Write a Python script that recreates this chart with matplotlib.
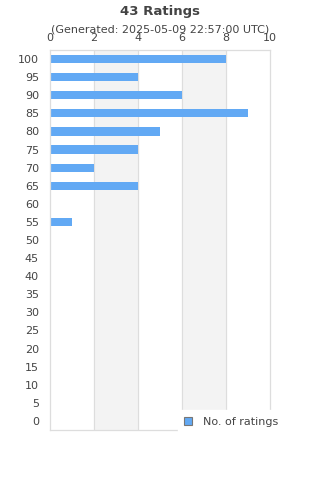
import matplotlib
matplotlib.use("Agg")
import matplotlib.pyplot as plt
from matplotlib.patches import Patch

ratings = [0, 5, 10, 15, 20, 25, 30, 35, 40, 45, 50, 55, 60, 65, 70, 75, 80, 85, 90, 95, 100]
counts = [0, 0, 0, 0, 0, 0, 0, 0, 0, 0, 0, 1, 0, 4, 2, 4, 5, 9, 6, 4, 8]
x_ticks = [0, 2, 4, 6, 8, 10]

text_color = "#444444"
bar_color = "#62a9f4"
grid_color = "#dddddd"

fig = plt.figure(figsize=(3.2, 4.8), dpi=100)
ax = fig.add_axes([50 / 320, 50 / 480, 220 / 320, 380 / 480])

# alternating bands
for i in range(len(x_ticks) - 1):
    if i % 2 == 1:
        ax.axvspan(x_ticks[i], x_ticks[i + 1], color="#f3f3f3", zorder=0)
for t in x_ticks[1:-1]:
    ax.axvline(t, color=grid_color, lw=0.8, zorder=0.5)

pos = list(range(len(ratings)))
ax.barh(pos, counts, height=0.45, color=bar_color, zorder=2)

ax.set_xlim(0, 10)
ax.set_ylim(-0.5, len(ratings) - 0.5)
ax.set_yticks(pos)
ax.set_yticklabels([str(r) for r in ratings])
ax.set_xticks(x_ticks)
ax.xaxis.tick_top()
ax.tick_params(axis="both", length=0, labelsize=8, colors=text_color)
ax.tick_params(axis="y", pad=8)
ax.tick_params(axis="x", pad=5)
for s in ax.spines.values():
    s.set_color(grid_color)
    s.set_linewidth(0.9)

fig.text(0.5, 1 - 11 / 480, "43 Ratings", ha="center", va="center",
         fontsize=9.5, fontweight="bold", color=text_color)
fig.text(0.5, 1 - 30 / 480, "(Generated: 2025-05-09 22:57:00 UTC)", ha="center",
         va="center", fontsize=8, color=text_color)

handle = Patch(facecolor=bar_color, edgecolor="#777777", linewidth=0.8)
leg = fig.legend([handle], ["No. of ratings"], loc="center left",
                 bbox_to_anchor=(172 / 320, 1 - 422 / 480), frameon=True,
                 fontsize=8, handlelength=0.7, handleheight=0.7,
                 handletextpad=1.0, borderpad=0.6, fancybox=False)
leg.get_frame().set_edgecolor("white")
leg.get_frame().set_facecolor("white")
leg.get_frame().set_alpha(1)
for t in leg.get_texts():
    t.set_color(text_color)

fig.savefig("out.png", dpi=100)
